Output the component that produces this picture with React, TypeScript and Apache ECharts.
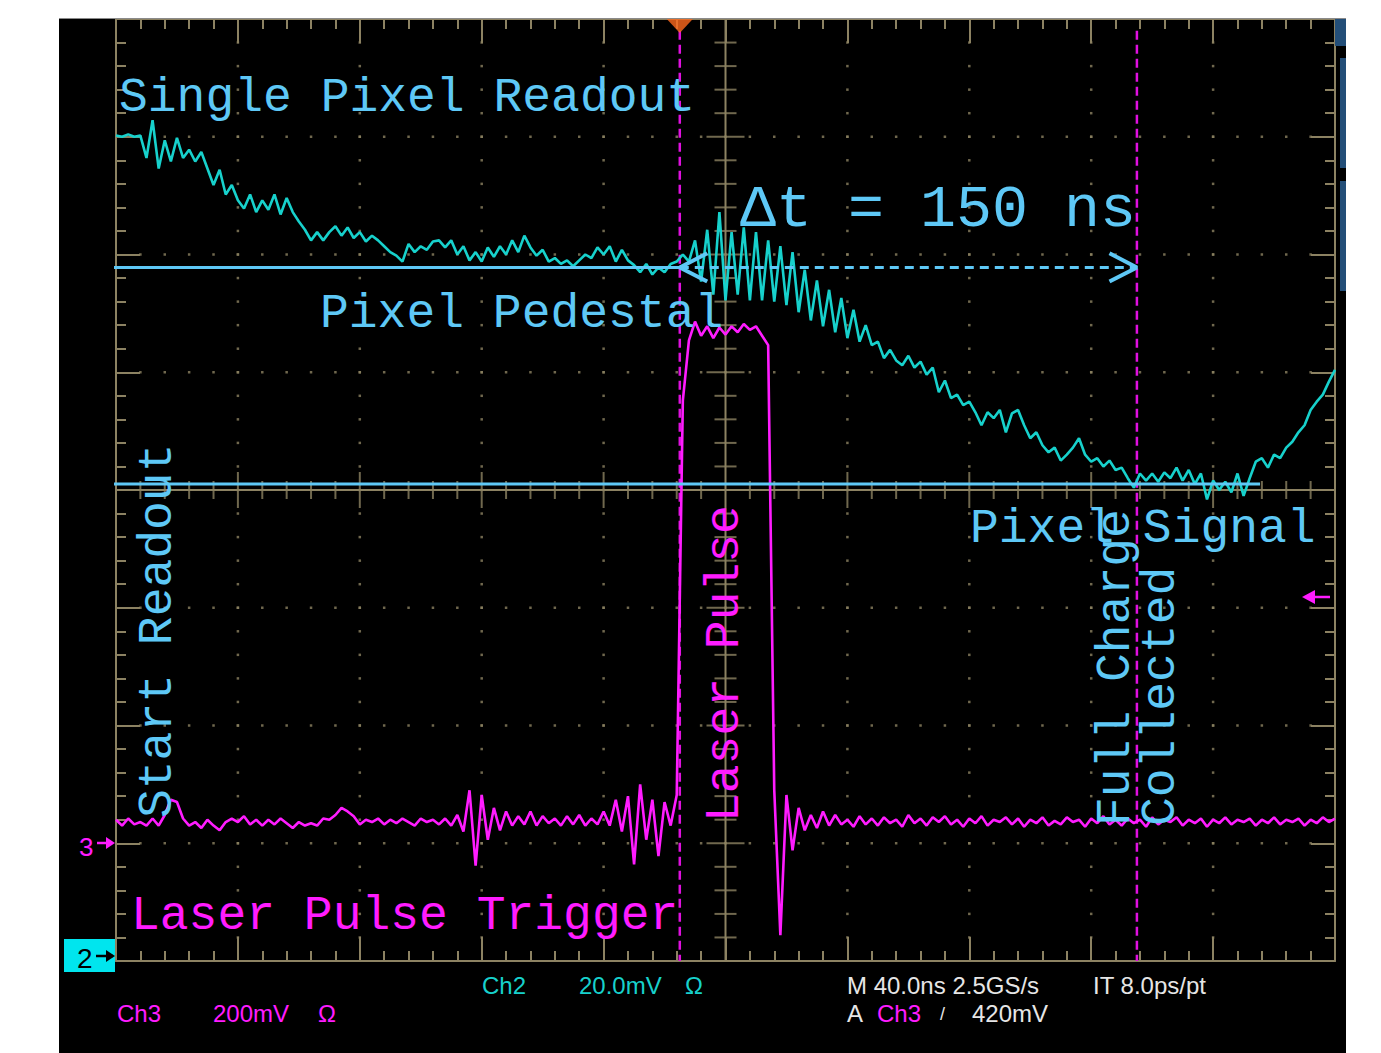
import React, { useEffect, useRef } from "react";
import * as echarts from "echarts";

// ---- Time base (ns) and vertical scale (divisions) ----
const T_MIN_NS = -200;
const T_MAX_NS = 200;
const NS_PER_DIV = 40;
const DIV_MIN = -4;
const DIV_MAX = 4;
const SAMPLE_NS = 2; // one point every 2 ns, starting at T_MIN_NS

// Ch2 (cyan) – single pixel readout, in screen divisions
const CH2_DIV = [
  3.01, 3.0, 3.02, 3.0, 3.01, 2.82, 3.14, 2.73, 2.97, 2.79,
  2.99, 2.82, 2.89, 2.79, 2.87, 2.73, 2.59, 2.72, 2.51, 2.59,
  2.46, 2.39, 2.51, 2.36, 2.46, 2.38, 2.51, 2.34, 2.48, 2.36,
  2.28, 2.21, 2.12, 2.19, 2.12, 2.19, 2.24, 2.16, 2.23, 2.14,
  2.19, 2.11, 2.16, 2.12, 2.07, 2.02, 1.99, 1.94, 2.09, 2.02,
  2.07, 2.04, 2.11, 2.12, 2.06, 2.12, 2.0, 2.07, 1.95, 2.02,
  1.94, 2.06, 1.98, 2.07, 2.0, 2.12, 2.02, 2.16, 2.06, 1.99,
  2.04, 1.94, 1.97, 1.92, 1.95, 1.9, 1.95, 2.0, 1.97, 2.06,
  2.0, 2.07, 1.94, 2.04, 1.95, 1.91, 1.85, 1.92, 1.83, 1.89,
  1.85, 1.92, 1.94, 2.0, 1.94, 2.12, 1.77, 2.21, 1.66, 2.36,
  1.61, 2.19, 1.66, 2.23, 1.61, 2.19, 1.61, 2.12, 1.6, 2.07,
  1.57, 2.02, 1.51, 1.87, 1.44, 1.78, 1.39, 1.7, 1.34, 1.63,
  1.29, 1.53, 1.26, 1.4, 1.23, 1.26, 1.12, 1.19, 1.1, 1.06,
  1.14, 1.04, 1.09, 0.98, 1.04, 0.83, 0.93, 0.78, 0.81, 0.72,
  0.75, 0.66, 0.55, 0.66, 0.61, 0.68, 0.49, 0.65, 0.68, 0.55,
  0.44, 0.49, 0.38, 0.32, 0.36, 0.25, 0.3, 0.36, 0.44, 0.3,
  0.24, 0.27, 0.2, 0.25, 0.17, 0.19, 0.1, 0.02, 0.14, 0.08,
  0.14, 0.07, 0.15, 0.1, 0.19, 0.08, 0.17, 0.05, 0.14, -0.08,
  0.08, 0.0, 0.07, -0.02, 0.14, -0.05, 0.1, 0.24, 0.27, 0.19,
  0.3, 0.27, 0.36, 0.41, 0.49, 0.55, 0.68, 0.75, 0.81, 0.92,
  1.02,
];

// Ch3 (magenta) – laser pulse trigger, in screen divisions
const CH3_DIV = [
  -2.8, -2.85, -2.79, -2.84, -2.82, -2.85, -2.79, -2.85, -2.76, -2.63,
  -2.65, -2.79, -2.85, -2.82, -2.87, -2.8, -2.85, -2.89, -2.82, -2.79,
  -2.82, -2.77, -2.84, -2.8, -2.85, -2.8, -2.84, -2.79, -2.83, -2.87,
  -2.82, -2.85, -2.83, -2.85, -2.79, -2.8, -2.76, -2.7, -2.73, -2.77,
  -2.84, -2.8, -2.82, -2.79, -2.84, -2.8, -2.83, -2.79, -2.82, -2.85,
  -2.79, -2.82, -2.8, -2.84, -2.79, -2.85, -2.76, -2.9, -2.55, -3.19,
  -2.59, -2.97, -2.7, -2.89, -2.73, -2.85, -2.77, -2.84, -2.73, -2.85,
  -2.77, -2.83, -2.79, -2.85, -2.77, -2.84, -2.76, -2.85, -2.79, -2.84,
  -2.73, -2.85, -2.63, -2.9, -2.6, -3.18, -2.5, -2.97, -2.63, -3.11,
  -2.65, -2.85, -2.59, 0.76, 1.27, 1.43, 1.31, 1.39, 1.29, 1.38,
  1.32, 1.39, 1.34, 1.41, 1.36, 1.39, 1.31, 1.23, -2.55, -3.78,
  -2.59, -3.06, -2.7, -2.89, -2.76, -2.87, -2.73, -2.85, -2.76, -2.84,
  -2.8, -2.86, -2.77, -2.84, -2.79, -2.85, -2.78, -2.83, -2.8, -2.86,
  -2.76, -2.83, -2.79, -2.85, -2.78, -2.82, -2.77, -2.84, -2.8, -2.86,
  -2.79, -2.83, -2.77, -2.85, -2.8, -2.82, -2.78, -2.84, -2.79, -2.86,
  -2.8, -2.83, -2.78, -2.85, -2.81, -2.84, -2.78, -2.82, -2.8, -2.86,
  -2.79, -2.83, -2.77, -2.84, -2.8, -2.85, -2.79, -2.83, -2.8, -2.86,
  -2.78, -2.84, -2.8, -2.82, -2.78, -2.85, -2.8, -2.83, -2.79, -2.86,
  -2.8, -2.83, -2.78, -2.84, -2.8, -2.82, -2.79, -2.85, -2.8, -2.83,
  -2.78, -2.84, -2.8, -2.82, -2.79, -2.85, -2.8, -2.83, -2.78, -2.82,
  -2.79,
];

// Annotations (data units)
const PEDESTAL_DIV = 1.89;
const SIGNAL_DIV = 0.05;
const CURSOR_A_NS = -15;
const CURSOR_B_NS = 135;
const LINE_START_NS = -201.6;
const SIGNAL_LINE_END_NS = 175.4;

// Colours
const TAN = "#8c8262";
const CYAN = "#17d1cc";
const MAG = "#ff1cff";
const LABEL = "#5ec8f6";
const WHITE = "#e6e6e6";

// page offset of the chart panel
const OX = 59;
const OY = 18;

const MONO = '"Liberation Mono", "DejaVu Sans Mono", monospace';
const SANS = '"Liberation Sans", Arial, sans-serif';

function txt(x: number, y: number, text: string, fill: string, font: string, extra: any = {}) {
  return {
    type: "text",
    x: x - OX,
    y: y - OY,
    z: 100,
    silent: true,
    ...extra,
    style: {
      text,
      fill,
      font,
      align: "left",
      verticalAlign: "middle",
      textAlign: "left",
      textVerticalAlign: "middle",
    },
  };
}

export default function App() {
  const ref = useRef<HTMLDivElement>(null);

  useEffect(() => {
    if (!ref.current) return;
    const chart = echarts.init(ref.current, undefined, { renderer: "svg" });

    const ch2 = CH2_DIV.map((v, i) => [T_MIN_NS + i * SAMPLE_NS, v]);
    const ch3 = CH3_DIV.map((v, i) => [T_MIN_NS + i * SAMPLE_NS, v]);

    // graticule dots along major division lines, five per division
    const dots: number[][] = [];
    for (let gx = -4; gx <= 4; gx++) {
      if (gx === 0) continue;
      for (let k = 1; k < 40; k++) dots.push([gx * NS_PER_DIV, DIV_MIN + k * 0.2]);
    }
    for (let gy = -3; gy <= 3; gy++) {
      if (gy === 0) continue;
      for (let k = 1; k < 50; k++) dots.push([T_MIN_NS + k * 8, gy]);
    }
    // centre cross tick marks
    const vTicks: any[] = [];
    for (let k = 1; k < 40; k++) {
      const y = DIV_MIN + k * 0.2;
      if (Math.abs(y) < 1e-6) continue;
      vTicks.push({ value: [0, y], symbolSize: k % 5 === 0 ? [38, 2] : [22, 2] });
    }
    const hTicks: any[] = [];
    for (let k = 1; k < 50; k++) {
      const x = T_MIN_NS + k * 8;
      if (Math.abs(x) < 1e-6) continue;
      hTicks.push({ value: [x, 0], symbolSize: k % 5 === 0 ? [2, 36] : [2, 18] });
    }

    const axisCommon = {
      axisLine: { onZero: false, lineStyle: { color: TAN, width: 2 } },
      axisTick: { show: true, inside: true, length: 24, lineStyle: { color: TAN, width: 2 } },
      minorTick: { show: true, splitNumber: 5, length: 10, lineStyle: { color: TAN, width: 2 } },
      axisLabel: { show: false },
      splitLine: { show: false },
    };

    const xAx = (position: string) => ({
      type: "value",
      min: T_MIN_NS,
      max: T_MAX_NS,
      interval: NS_PER_DIV,
      position,
      ...axisCommon,
    });
    const yAx = (position: string) => ({
      type: "value",
      min: DIV_MIN,
      max: DIV_MAX,
      interval: 1,
      position,
      ...axisCommon,
    });

    const lineS = (data: any[], color: string, width: number, type: any = "solid", z = 5) => ({
      type: "line",
      data,
      showSymbol: false,
      symbol: "none",
      silent: true,
      clip: false,
      z,
      lineStyle: { color, width, type },
    });

    const option: any = {
      animation: false,
      backgroundColor: "#000",
      grid: { left: 116 - OX, top: 19 - OY, width: 1219, height: 942 },
      xAxis: [xAx("bottom"), xAx("top")],
      yAxis: [yAx("left"), yAx("right")],
      series: [
        {
          type: "scatter",
          data: dots,
          symbol: "rect",
          symbolSize: 2.5,
          itemStyle: { color: TAN },
          silent: true,
          z: 1,
        },
        lineS([[0, DIV_MIN], [0, DIV_MAX]], TAN, 2, "solid", 1),
        lineS([[T_MIN_NS, 0], [T_MAX_NS, 0]], TAN, 2, "solid", 1),
        {
          type: "scatter",
          data: vTicks,
          symbol: "rect",
          itemStyle: { color: TAN },
          silent: true,
          z: 1,
        },
        {
          type: "scatter",
          data: hTicks,
          symbol: "rect",
          itemStyle: { color: TAN },
          silent: true,
          z: 1,
        },
        // cursors
        lineS([[CURSOR_A_NS, 3.9], [CURSOR_A_NS, DIV_MIN]], "#e010e0", 2.5, [9, 5], 3),
        lineS([[CURSOR_B_NS, 3.9], [CURSOR_B_NS, DIV_MIN]], "#e010e0", 2.5, [9, 5], 3),
        // traces
        lineS(ch2, CYAN, 2.6, "solid", 4),
        lineS(ch3, MAG, 2.6, "solid", 5),
        // pedestal and signal levels
        lineS([[LINE_START_NS, PEDESTAL_DIV], [CURSOR_A_NS, PEDESTAL_DIV]], LABEL, 3, "solid", 6),
        lineS([[CURSOR_A_NS, PEDESTAL_DIV], [CURSOR_B_NS, PEDESTAL_DIV]], LABEL, 3, [9, 6], 6),
        lineS([[LINE_START_NS, SIGNAL_DIV], [SIGNAL_LINE_END_NS, SIGNAL_DIV]], LABEL, 3, "solid", 6),
        lineS(
          [[CURSOR_A_NS + 9, PEDESTAL_DIV + 0.12], [CURSOR_A_NS, PEDESTAL_DIV], [CURSOR_A_NS + 9, PEDESTAL_DIV - 0.12]],
          LABEL, 4, "solid", 6
        ),
        lineS(
          [[CURSOR_B_NS - 9, PEDESTAL_DIV + 0.12], [CURSOR_B_NS, PEDESTAL_DIV], [CURSOR_B_NS - 9, PEDESTAL_DIV - 0.12]],
          LABEL, 4, "solid", 6
        ),
        // trigger position marker
        {
          type: "scatter",
          data: [[CURSOR_A_NS, DIV_MAX]],
          symbol: "triangle",
          symbolRotate: 180,
          symbolSize: [26, 14],
          symbolOffset: [0, 7],
          itemStyle: { color: "#ff6a1e" },
          clip: false,
          silent: true,
          z: 7,
        },
      ],
      graphic: [
        // top edge of panel
        { type: "line", shape: { x1: 0, y1: 0.5, x2: 1287, y2: 0.5 }, style: { stroke: "#8a8a8a", lineWidth: 1 }, z: 50 },
        // right side blue bars
        { type: "rect", shape: { x: 1335 - OX, y: 19 - OY, width: 11, height: 27 }, style: { fill: "#234e78" }, z: 50 },
        { type: "rect", shape: { x: 1340 - OX, y: 58 - OY, width: 6, height: 110 }, style: { fill: "#234e78" }, z: 50 },
        { type: "rect", shape: { x: 1340 - OX, y: 181 - OY, width: 6, height: 110 }, style: { fill: "#234e78" }, z: 50 },
        // channel 2 marker box
        { type: "rect", shape: { x: 64 - OX, y: 939 - OY, width: 51, height: 33 }, style: { fill: "#00e5ee" }, z: 50 },
        txt(77, 958, "2", "#000", '28px ' + SANS),
        { type: "line", shape: { x1: 96 - OX, y1: 956 - OY, x2: 113 - OX, y2: 956 - OY }, style: { stroke: "#000", lineWidth: 2.5 }, z: 60 },
        { type: "polygon", shape: { points: [[115 - OX, 956 - OY], [106 - OX, 950 - OY], [106 - OX, 962 - OY]] }, style: { fill: "#000" }, z: 60 },
        // channel 3 marker
        txt(79, 847, "3", MAG, '26px ' + SANS),
        { type: "line", shape: { x1: 97 - OX, y1: 843 - OY, x2: 112 - OX, y2: 843 - OY }, style: { stroke: MAG, lineWidth: 2.5 }, z: 60 },
        { type: "polygon", shape: { points: [[115 - OX, 843 - OY], [106 - OX, 837 - OY], [106 - OX, 849 - OY]] }, style: { fill: MAG }, z: 60 },
        // trigger level arrow
        { type: "line", shape: { x1: 1306 - OX, y1: 597 - OY, x2: 1330 - OX, y2: 597 - OY }, style: { stroke: MAG, lineWidth: 2.5 }, z: 60 },
        { type: "polygon", shape: { points: [[1302 - OX, 597 - OY], [1315 - OX, 590 - OY], [1315 - OX, 604 - OY]] }, style: { fill: MAG }, z: 60 },

        // annotations
        txt(119, 98, "Single Pixel Readout", LABEL, '48px ' + MONO),
        txt(740, 210, "Δt = 150 ns", LABEL, '60px ' + MONO),
        txt(320, 314, "Pixel Pedestal", LABEL, '48px ' + MONO),
        txt(970, 529, "Pixel Signal", LABEL, '48px ' + MONO),
        txt(131, 916, "Laser Pulse Trigger", MAG, '48px ' + MONO),
        txt(158, 818, "Start Readout", LABEL, '48px ' + MONO, { rotation: Math.PI / 2 }),
        txt(725, 822, "Laser Pulse", MAG, '48px ' + MONO, { rotation: Math.PI / 2 }),
        txt(1116, 826, "Full Charge", LABEL, '48px ' + MONO, { rotation: Math.PI / 2 }),
        txt(1161, 826, "Collected", LABEL, '48px ' + MONO, { rotation: Math.PI / 2 }),

        // readout texts
        txt(117, 1013, "Ch3", MAG, '24px ' + SANS),
        txt(213, 1013, "200mV", MAG, '24px ' + SANS),
        txt(318, 1013, "Ω", MAG, '24px ' + SANS),
        txt(482, 985, "Ch2", CYAN, '24px ' + SANS),
        txt(579, 985, "20.0mV", CYAN, '24px ' + SANS),
        txt(685, 985, "Ω", CYAN, '24px ' + SANS),
        txt(847, 985, "M 40.0ns 2.5GS/s", WHITE, '24px ' + SANS),
        txt(1093, 985, "IT 8.0ps/pt", WHITE, '24px ' + SANS),
        txt(847, 1013, "A", WHITE, '24px ' + SANS),
        txt(877, 1013, "Ch3", MAG, '24px ' + SANS),
        txt(940, 1014, "/", WHITE, '18px ' + SANS),
        txt(972, 1013, "420mV", WHITE, '24px ' + SANS),
      ],
    };

    chart.setOption(option);
    return () => chart.dispose();
  }, []);

  return (
    <div
      ref={ref}
      style={{ position: "absolute", left: OX, top: OY, width: 1287, height: 1035, background: "#000" }}
    />
  );
}
